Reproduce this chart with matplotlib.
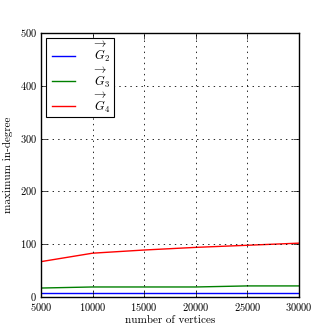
import matplotlib
matplotlib.use("Agg")
import matplotlib.pyplot as plt

plt.style.use("classic")
plt.rcParams["font.family"] = "cmr10"
plt.rcParams["mathtext.fontset"] = "cm"
plt.rcParams["axes.formatter.use_mathtext"] = True

vertices = [5000, 10000, 15000, 20000, 25000, 30000]
g2 = [7, 7, 7, 7, 7, 7]
g3 = [17, 19, 19, 19, 21, 21]
g4 = [67, 83, 89, 94, 98, 102]

fig = plt.figure(figsize=(3.32, 3.32), dpi=100)
fig.patch.set_facecolor("white")
ax = fig.add_axes([0.1235, 0.1054, 0.777, 0.7952])

ax.plot(vertices, g2, color="blue", label=r"$\overrightarrow{G}_2$ ")
ax.plot(vertices, g3, color="green", label=r"$\overrightarrow{G}_3$ ")
ax.plot(vertices, g4, color="red", label=r"$\overrightarrow{G}_4$ ")

ax.set_xlim(5000, 30000)
ax.set_ylim(0, 500)
ax.set_xticks([5000, 10000, 15000, 20000, 25000, 30000])
ax.set_yticks([0, 100, 200, 300, 400, 500])
ax.tick_params(labelsize=7.5, pad=3)
ax.grid(True, color="black", linestyle=":", linewidth=0.6)
ax.set_xlabel("number of vertices", fontsize=8, labelpad=2)
ax.set_ylabel("maximum in-degree", fontsize=8)

leg = ax.legend(loc="upper left", fontsize=9, handlelength=2.5,
                labelspacing=0.1, borderpad=0.15, handletextpad=1.2,
                borderaxespad=0.4)
leg.get_frame().set_linewidth(0.8)

fig.savefig("out.png", dpi=100, facecolor="white")
